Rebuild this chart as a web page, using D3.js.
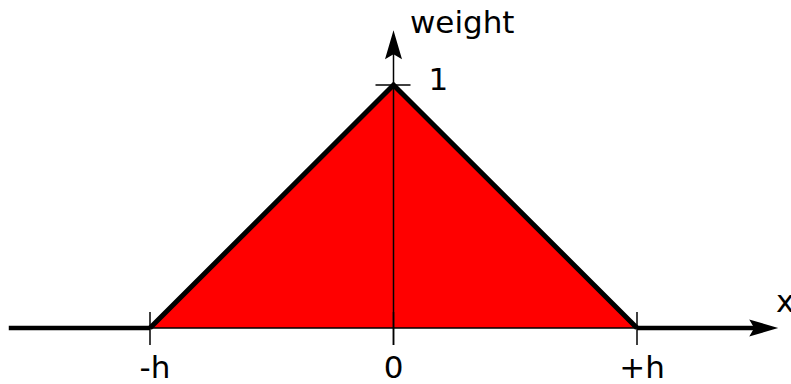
<!DOCTYPE html>
<html>
<head>
<meta charset="utf-8">
<script src="https://cdn.jsdelivr.net/npm/d3@7"></script>
<style>
  html, body { margin: 0; padding: 0; background: #fff; }
  svg { display: block; }
</style>
</head>
<body>
<div id="chart"></div>
<script>
// triangular kernel: weight as a function of x
const kernelX = [-1, 0, 1];
const kernelW = [0, 1, 0];
const xTicks = [-1, 0, 1];
const xTickLabels = ["-h", "0", "+h"];
const yTicks = [1];
const yTickLabels = ["1"];
const xAxisRange = [-1.58, 1.58];
const yAxisRange = [-0.07, 1.225];

const width = 791, height = 384;
const font = "'DejaVu Sans', sans-serif";
const fontSize = "31px";

const svg = d3.select("#chart")
    .append("svg")
    .attr("width", width)
    .attr("height", height);

const x = d3.scaleLinear().domain([-1, 1]).range([150, 637]);
const y = d3.scaleLinear().domain([0, 1]).range([328, 85]);

const pts = kernelX.map((d, i) => ({ x: d, w: kernelW[i] }));

// red fill under the kernel
svg.append("path")
    .datum(pts)
    .attr("d", d3.area().x(d => x(d.x)).y0(y(0)).y1(d => y(d.w)))
    .attr("fill", "#ff0000");

// thin base line
svg.append("line")
    .attr("x1", x(-1)).attr("x2", x(1))
    .attr("y1", y(0)).attr("y2", y(0))
    .attr("stroke", "#000").attr("stroke-width", 1.5);

// kernel outline
svg.append("path")
    .datum(pts)
    .attr("d", d3.line().x(d => x(d.x)).y(d => y(d.w)))
    .attr("fill", "none")
    .attr("stroke", "#000")
    .attr("stroke-width", 5)
    .attr("stroke-linejoin", "miter");

// thick x axis outside the kernel support
const xTip = x(xAxisRange[1]);
svg.append("line")
    .attr("x1", x(xAxisRange[0])).attr("x2", x(-1))
    .attr("y1", y(0)).attr("y2", y(0))
    .attr("stroke", "#000").attr("stroke-width", 4.5);
svg.append("line")
    .attr("x1", x(1)).attr("x2", xTip - 20)
    .attr("y1", y(0)).attr("y2", y(0))
    .attr("stroke", "#000").attr("stroke-width", 4.5);

// x arrow head
svg.append("path")
    .attr("d", `M${xTip},${y(0)} L${xTip - 29},${y(0) - 8.5} L${xTip - 24},${y(0)} L${xTip - 29},${y(0) + 8.5} Z`)
    .attr("fill", "#000");

// y axis
const yTip = y(yAxisRange[1]);
svg.append("line")
    .attr("x1", x(0)).attr("x2", x(0))
    .attr("y1", y(yAxisRange[0])).attr("y2", yTip + 20)
    .attr("stroke", "#000").attr("stroke-width", 1.5);
svg.append("path")
    .attr("d", `M${x(0)},${yTip} L${x(0) - 8.5},${yTip + 29} L${x(0)},${yTip + 24} L${x(0) + 8.5},${yTip + 29} Z`)
    .attr("fill", "#000");

// x ticks
svg.selectAll(".xtick")
    .data(xTicks)
    .enter().append("line")
    .attr("class", "xtick")
    .attr("x1", d => x(d)).attr("x2", d => x(d))
    .attr("y1", y(0) - 16).attr("y2", y(0) + 17)
    .attr("stroke", "#000").attr("stroke-width", 1.5);

// signed labels sit a little right of their tick
const labelShift = d => (d === 0 ? 0 : 5);
svg.selectAll(".xlabel")
    .data(xTicks)
    .enter().append("text")
    .attr("class", "xlabel")
    .attr("x", d => x(d) + labelShift(d))
    .attr("y", 378)
    .attr("text-anchor", "middle")
    .style("font-family", font)
    .style("font-size", fontSize)
    .text((d, i) => xTickLabels[i]);

// y ticks
svg.selectAll(".ytick")
    .data(yTicks)
    .enter().append("line")
    .attr("class", "ytick")
    .attr("x1", x(0) - 18).attr("x2", x(0) + 17)
    .attr("y1", d => y(d)).attr("y2", d => y(d))
    .attr("stroke", "#000").attr("stroke-width", 1.5);

svg.selectAll(".ylabel")
    .data(yTicks)
    .enter().append("text")
    .attr("class", "ylabel")
    .attr("x", x(0) + 35)
    .attr("y", d => y(d) + 5)
    .style("font-family", font)
    .style("font-size", fontSize)
    .text((d, i) => yTickLabels[i]);

// axis titles
svg.append("text")
    .attr("x", 410).attr("y", 33)
    .style("font-family", font)
    .style("font-size", fontSize)
    .text("weight");

svg.append("text")
    .attr("x", 776).attr("y", 312)
    .style("font-family", font)
    .style("font-size", fontSize)
    .text("x");
</script>
</body>
</html>
